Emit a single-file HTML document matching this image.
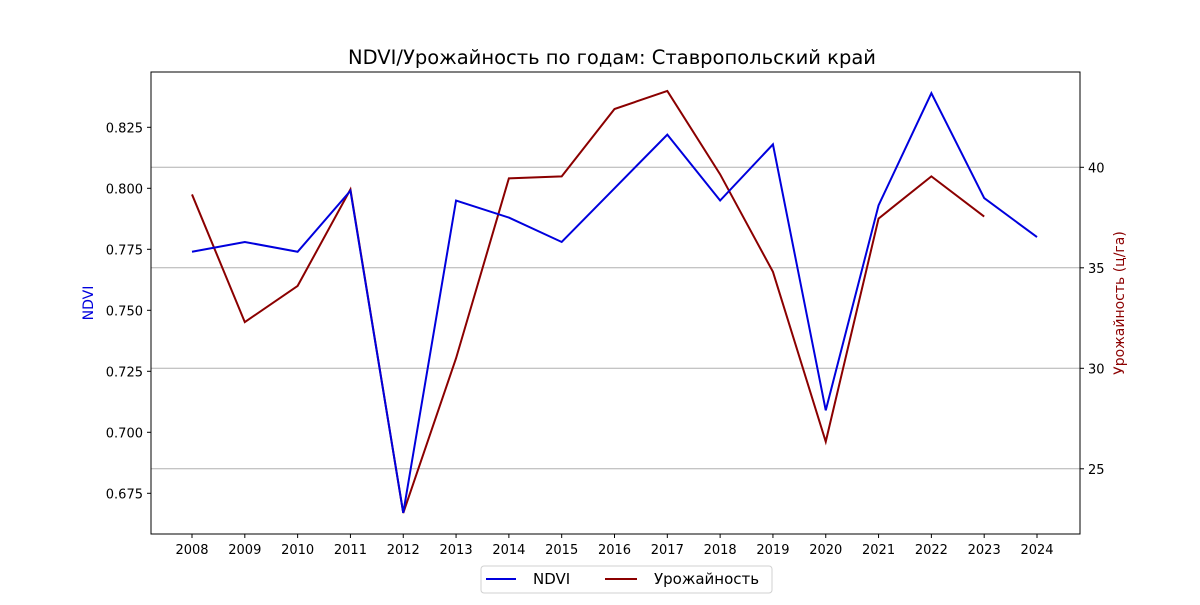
<!DOCTYPE html>
<html><head><meta charset="utf-8"><style>
body{margin:0;background:#fff;}
svg{font-family:"DejaVu Sans","Liberation Sans",sans-serif;}
</style></head><body>
<svg id="c" width="1200" height="600" xmlns="http://www.w3.org/2000/svg"></svg>
<script>
const years=[2008,2009,2010,2011,2012,2013,2014,2015,2016,2017,2018,2019,2020,2021,2022,2023,2024];
const ndvi=[0.774,0.778,0.774,0.799,0.667,0.795,0.788,0.778,0.800,0.822,0.795,0.818,0.709,0.793,0.839,0.796,0.780];
const yieldYears=[2008,2009,2010,2011,2012,2013,2014,2015,2016,2017,2018,2019,2020,2021,2022,2023];
const yieldVals=[38.65,32.3,34.1,38.9,22.8,30.5,39.45,39.55,42.9,43.8,39.65,34.8,26.35,37.45,39.55,37.55];
const leftTicks=[0.675,0.700,0.725,0.750,0.775,0.800,0.825];
const rightTicks=[25,30,35,40];

const svg=document.getElementById('c');
const NS='http://www.w3.org/2000/svg';
const L=151,R=1080,T=72,B=534;
const x=y=>192+(y-2008)*(1037-192)/16;
const yL=v=>188.3-(v-0.8)/0.025*61;
const yR=v=>167.3-(v-40)/5*100.5;
function el(t,a,txt){const e=document.createElementNS(NS,t);for(const k in a)e.setAttribute(k,a[k]);if(txt!=null)e.textContent=txt;svg.appendChild(e);return e;}

let e;
e=el('text',{x:612,y:64,'text-anchor':'middle','font-size':19.5,fill:'#000'},'NDVI/Урожайность по годам: Ставропольский край');



for(const v of rightTicks){
  e=el('line',{x1:L,x2:R,y1:yR(v),y2:yR(v),stroke:'#b0b0b0','stroke-width':1});
  
  
  e=el('line',{x1:R,x2:R+4,y1:yR(v),y2:yR(v),stroke:'#000'});
  
  
  e=el('text',{x:R+8,y:yR(v)+5,'font-size':13,fill:'#000'},String(v));
  
  
}
for(const v of leftTicks){
  e=el('line',{x1:L-4,x2:L,y1:yL(v),y2:yL(v),stroke:'#000'});
  
  
  e=el('text',{x:L-8,y:yL(v)+5,'font-size':13,'text-anchor':'end',fill:'#000'},v.toFixed(3));
  
  
}
for(const yr of years){
  e=el('line',{x1:x(yr),x2:x(yr),y1:B,y2:B+4,stroke:'#000'});
  
  
  e=el('text',{x:x(yr),y:B+20,'font-size':13,'text-anchor':'middle',fill:'#000'},String(yr));
  
  
}
e=el('polyline',{points:yieldYears.map((yr,i)=>x(yr)+','+yR(yieldVals[i])).join(' '),fill:'none',stroke:'#8b0000','stroke-width':2});


e=el('polyline',{points:years.map((yr,i)=>x(yr)+','+yL(ndvi[i])).join(' '),fill:'none',stroke:'#0000dd','stroke-width':2});


e=el('rect',{x:L,y:T,width:R-L,height:B-T,fill:'none',stroke:'#000','stroke-width':1});



e=el('text',{x:0,y:0,'font-size':14,fill:'#0000dd','text-anchor':'middle',transform:'translate(93,303) rotate(-90)'},'NDVI');


e=el('text',{x:0,y:0,'font-size':14,fill:'#8b0000','text-anchor':'middle',transform:'translate(1124,303) rotate(-90)'},'Урожайность (ц/га)');



e=el('rect',{x:481,y:566,width:291,height:27,rx:3,fill:'#fff',stroke:'#d0d0d0'});


e=el('line',{x1:486,x2:516,y1:579,y2:579,stroke:'#0000dd','stroke-width':2});


e=el('text',{x:533,y:584,'font-size':15,fill:'#000'},'NDVI');


e=el('line',{x1:605,x2:637,y1:579,y2:579,stroke:'#8b0000','stroke-width':2});


e=el('text',{x:654,y:584,'font-size':15,fill:'#000'},'Урожайность');


</script>
</body></html>
